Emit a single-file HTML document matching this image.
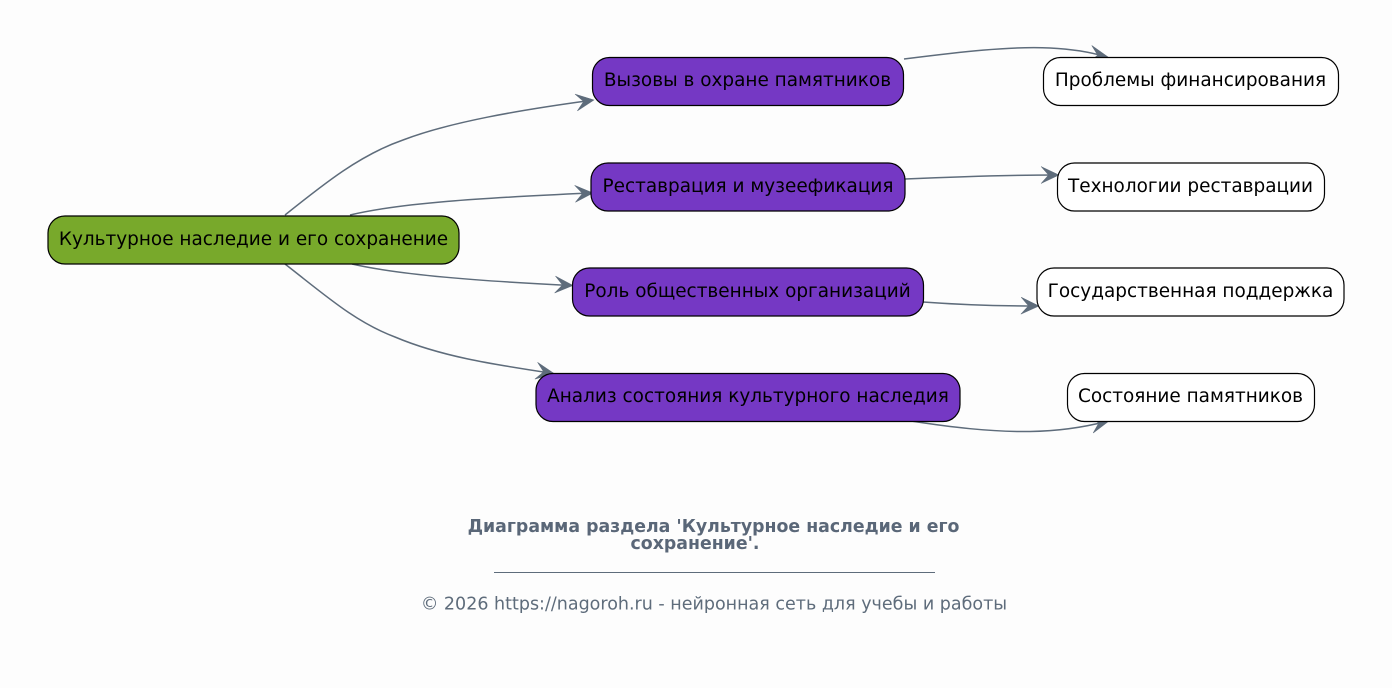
<!DOCTYPE html>
<html lang="ru"><head><meta charset="utf-8"><style>
html,body{margin:0;padding:0;background:#fdfdfd;width:1392px;height:688px;overflow:hidden}
svg{display:block}
text{font-family:"DejaVu Sans",sans-serif}
.n{font-size:18.45px;fill:#000;text-anchor:middle}
.e{fill:none;stroke:#5e6c7b;stroke-width:1.5}
.a{fill:#5e6c7b;stroke:#5e6c7b;stroke-width:.5}
.r{stroke:#000;stroke-width:1.2}
</style></head><body>
<svg width="1392" height="688" viewBox="0 0 1392 688" xmlns="http://www.w3.org/2000/svg">
<rect width="1392" height="688" fill="#fdfdfd"/>
<path class="e" d="M285 215 C325 183 360 155 403 140 C450 122 520 110 590 100.5"/>
<path class="e" d="M350 215 C400 203 480 198 590 193"/>
<path class="e" d="M352 264 C400 275 480 281 570 285.5"/>
<path class="e" d="M285 264 C325 295 355 322 395 337 C440 356 490 364 550 373"/>
<path class="e" d="M904 59 C960 52 1010 46 1050 48 C1070 49 1090 52 1105 56.5"/>
<path class="e" d="M905 179 C950 177 1000 175 1056 175"/>
<path class="e" d="M923 302 C950 304 990 306 1036 306"/>
<path class="e" d="M911 421 C950 427 990 432 1030 431.5 C1060 431 1085 427 1106 421.5"/>
<g class="a">
<path transform="translate(594,100) rotate(-8)" d="M0 0 L-18 -8.5 L-10.5 0 L-18 8.5 Z"/>
<path transform="translate(593,193) rotate(-2.5)" d="M0 0 L-18 -8.5 L-10.5 0 L-18 8.5 Z"/>
<path transform="translate(573,285.5) rotate(3)" d="M0 0 L-18 -8.5 L-10.5 0 L-18 8.5 Z"/>
<path transform="translate(554,373.5) rotate(9)" d="M0 0 L-18 -8.5 L-10.5 0 L-18 8.5 Z"/>
<path transform="translate(1108,57) rotate(10)" d="M0 0 L-18 -8.5 L-10.5 0 L-18 8.5 Z"/>
<path transform="translate(1059,175) rotate(0)" d="M0 0 L-18 -8.5 L-10.5 0 L-18 8.5 Z"/>
<path transform="translate(1039,306) rotate(1)" d="M0 0 L-18 -8.5 L-10.5 0 L-18 8.5 Z"/>
<path transform="translate(1109,421) rotate(-12)" d="M0 0 L-18 -8.5 L-10.5 0 L-18 8.5 Z"/>
</g>
<rect class="r" x="48" y="216" width="411" height="48" rx="17" fill="#78a92b"/>
<rect class="r" x="592.5" y="57.5" width="311" height="48" rx="17" fill="#7538c4"/>
<rect class="r" x="591" y="163" width="314" height="48" rx="17" fill="#7538c4"/>
<rect class="r" x="572.5" y="268" width="351" height="48" rx="17" fill="#7538c4"/>
<rect class="r" x="536" y="373.5" width="424" height="48" rx="17" fill="#7538c4"/>
<rect class="r" x="1043.5" y="57.5" width="295" height="48" rx="17" fill="#fff"/>
<rect class="r" x="1057.5" y="163" width="267" height="48" rx="17" fill="#fff"/>
<rect class="r" x="1037" y="268" width="307" height="48" rx="17" fill="#fff"/>
<rect class="r" x="1067.5" y="373.5" width="247" height="48" rx="17" fill="#fff"/>
<text class="n" x="253.5" y="245">Культурное наследие и его сохранение</text>
<text class="n" x="747.5" y="86">Вызовы в охране памятников</text>
<text class="n" x="748" y="192">Реставрация и музеефикация</text>
<text class="n" x="747.5" y="297">Роль общественных организаций</text>
<text class="n" x="748" y="402">Анализ состояния культурного наследия</text>
<text class="n" x="1190.5" y="86">Проблемы финансирования</text>
<text class="n" x="1190.5" y="192">Технологии реставрации</text>
<text class="n" x="1190.5" y="297">Государственная поддержка</text>
<text class="n" x="1190.5" y="402">Состояние памятников</text>
<text x="713.5" y="532" text-anchor="middle" font-size="17.33" font-weight="bold" fill="#5a6778">Диаграмма раздела 'Культурное наследие и его</text>
<text x="695" y="549" text-anchor="middle" font-size="17.33" font-weight="bold" fill="#5a6778">сохранение'.</text>
<rect x="494" y="572" width="441" height="1" fill="#5e6c7b"/>
<text x="714" y="609.5" text-anchor="middle" font-size="17.5" fill="#5e6c7b">© 2026 https://nagoroh.ru - нейронная сеть для учебы и работы</text>
</svg>
</body></html>
